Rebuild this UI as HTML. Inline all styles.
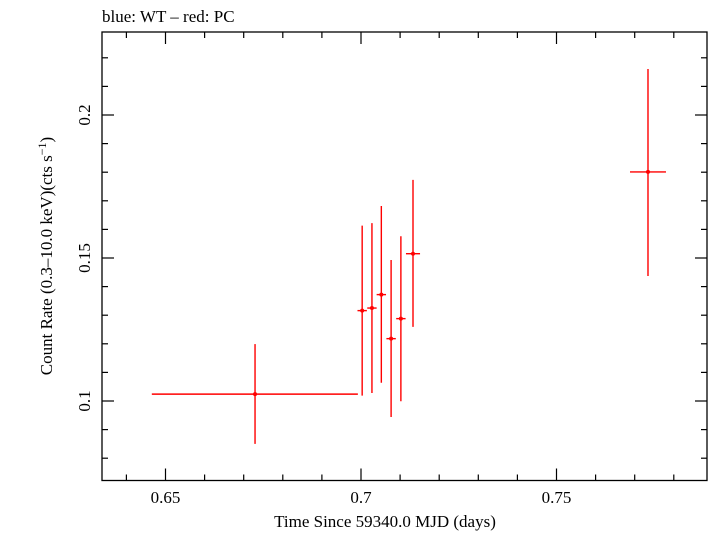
<!DOCTYPE html>
<html><head><meta charset="utf-8"><style>
body{margin:0;background:#fff;}
svg text{font-family:"Liberation Serif",serif;fill:#000;}
</style></head><body>
<svg id="chart" width="709" height="532">
<text x="102" y="22" font-size="17">blue: WT – red: PC</text>
<rect x="102" y="32" width="605" height="448.5" fill="none" stroke="#000" stroke-width="1.3"/>
<g id="axes"></g>
<g id="marks"></g>
<text x="385" y="527" font-size="17" text-anchor="middle">Time Since 59340.0 MJD (days)</text>
<text transform="translate(52,256) rotate(-90)" font-size="17" text-anchor="middle">Count Rate (0.3–10.0 keV)(cts s<tspan dy="-6" font-size="12">−1</tspan><tspan dy="6">)</tspan></text>
</svg>
<script>
const xTicks=[0.65,0.7,0.75];
const xTickLabels=["0.65","0.7","0.75"];
const yTicks=[0.1,0.15,0.2];
const yTickLabels=["0.1","0.15","0.2"];
const times=[0.6729,0.7003,0.7028,0.7052,0.7077,0.7102,0.7133,0.7734];
const timeErrLo=[0.0264,0.0012,0.0012,0.0012,0.0012,0.0012,0.0018,0.0046];
const timeErrHi=[0.0263,0.0012,0.0012,0.0012,0.0012,0.0012,0.0018,0.0046];
const rates=[0.1024,0.1316,0.1325,0.1372,0.1218,0.1288,0.1515,0.1801];
const rateTop=[0.1199,0.1613,0.1622,0.1682,0.1493,0.1576,0.1773,0.2161];
const rateBottom=[0.0850,0.1019,0.1028,0.1064,0.0944,0.0999,0.1259,0.1437];
const X=v=>361+(v-0.7)*3910;
const Y=v=>401-(v-0.1)*2860;
const NS="http://www.w3.org/2000/svg";
const axes=document.getElementById('axes'),marks=document.getElementById('marks');
function mk(tag,attrs,parent){const e=document.createElementNS(NS,tag);for(const k in attrs)e.setAttribute(k,attrs[k]);parent.appendChild(e);return e;}
// minor ticks
for(let i=63;i<=78;i++){const v=i/100;const x=X(v);if(x<103||x>706)continue;const major=i%5===0;const L=major?12:6;
 let t=mk('line',{x1:x,x2:x,y1:480.5,y2:480.5-L,stroke:'#000','stroke-width':1.2},axes);
 
 
 t=mk('line',{x1:x,x2:x,y1:32,y2:32+L,stroke:'#000','stroke-width':1.2},axes);
 
 }
for(let i=8;i<=22;i++){const v=i/100;const y=Y(v);if(y<33||y>480)continue;const major=i%5===0;const L=major?12:6;
 let t=mk('line',{x1:102,x2:102+L,y1:y,y2:y,stroke:'#000','stroke-width':1.2},axes);
 
 
 t=mk('line',{x1:707,x2:707-L,y1:y,y2:y,stroke:'#000','stroke-width':1.2},axes);
 
 }
xTicks.forEach((v,i)=>{const t=mk('text',{x:X(v),y:503,'font-size':17,'text-anchor':'middle'},axes);t.textContent=xTickLabels[i];
 
 });
yTicks.forEach((v,i)=>{const t=mk('text',{transform:`translate(90,${Y(v)}) rotate(-90)`,'font-size':17,'text-anchor':'middle'},axes);t.textContent=yTickLabels[i];
 
 });
times.forEach((t,i)=>{const g=mk('g',{stroke:'#f00','stroke-width':1.4},marks);
 
 
 mk('line',{x1:X(t-timeErrLo[i]),x2:X(t+timeErrHi[i]),y1:Y(rates[i]),y2:Y(rates[i])},g);
 mk('line',{x1:X(t),x2:X(t),y1:Y(rateTop[i]),y2:Y(rateBottom[i])},g);
 mk('circle',{cx:X(t),cy:Y(rates[i]),r:2,fill:'#f00',stroke:'none'},g);});
</script>
</body></html>
